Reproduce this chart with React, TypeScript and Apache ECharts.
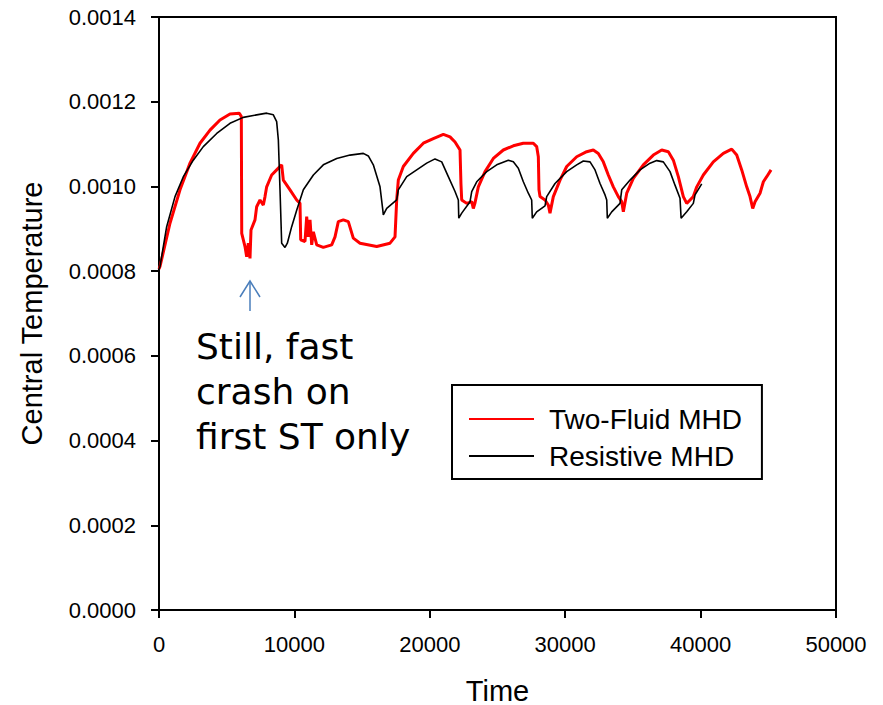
import React, { useEffect, useRef } from "react";
import * as echarts from "echarts";

const xTicks = [0, 10000, 20000, 30000, 40000, 50000];
const yTicks = [0, 0.0002, 0.0004, 0.0006, 0.0008, 0.001, 0.0012, 0.0014];

const twoFluidTime = [
  0, 74, 812, 1551, 2290, 3028, 3767, 4505, 5244, 5933, 6080, 6110, 6352, 6475, 6598, 6721, 6795, 7090,
  7213, 7460, 7705, 7829, 7952, 8321, 8690, 9060, 9183, 9676, 10169, 10414, 10465, 10783, 10908, 11031,
  11153, 11278, 11401, 11648, 12135, 12755, 13000, 13244, 13613, 13982, 14350, 14846, 16079, 17062, 17431,
  17555, 17675, 18044, 18783, 19522, 20260, 20999, 21493, 21863, 22232, 22300, 22357, 22727, 23096, 23214,
  23330, 23583, 24078, 24692, 25430, 26169, 26908, 27646, 27893, 28016, 28064, 28140, 28510, 28753, 28877,
  29123, 29617, 30110, 30849, 31588, 32077, 32446, 32815, 33184, 33554, 33923, 34175, 34294, 34544, 35032,
  35770, 36509, 37129, 37618, 37987, 38356, 38725, 38975, 39220, 39463, 39716, 40201, 40939, 41678, 42298,
  42668, 43037, 43406, 43650, 43849, 44021, 44390, 44636, 44884, 45202,
];
const twoFluidValue = [
  0.000805, 0.000811, 0.000913, 0.000992, 0.001055, 0.001102, 0.001133, 0.001157, 0.001171, 0.001173,
  0.001165, 0.000889, 0.000858, 0.000834, 0.000866, 0.00083, 0.000897, 0.000921, 0.000952, 0.000968,
  0.000956, 0.000976, 0.000999, 0.001027, 0.001039, 0.001051, 0.001015, 0.000992, 0.000968, 0.00096,
  0.000874, 0.00087, 0.000929, 0.000881, 0.000921, 0.000862, 0.000893, 0.000862, 0.000856, 0.000862,
  0.000881, 0.000917, 0.000921, 0.000917, 0.000878, 0.000866, 0.000858, 0.000866, 0.000881, 0.000968,
  0.001015, 0.001047, 0.001078, 0.001102, 0.001113, 0.001123, 0.001117, 0.001105, 0.001086, 0.001007,
  0.000968, 0.00096, 0.000964, 0.000948, 0.00096, 0.000999, 0.001035, 0.001066, 0.001086, 0.001096,
  0.001102, 0.001102, 0.001094, 0.00107, 0.000992, 0.000976, 0.000968, 0.000956, 0.000937, 0.000976,
  0.001015, 0.001047, 0.00107, 0.001082, 0.001086, 0.001078, 0.001058, 0.001027, 0.000999, 0.000976,
  0.000964, 0.00094, 0.000984, 0.001019, 0.001051, 0.001074, 0.001086, 0.001082, 0.001062, 0.001023,
  0.000976, 0.00096, 0.000968, 0.000976, 0.000999, 0.001027, 0.001058, 0.001078, 0.001088, 0.001074,
  0.001039, 0.000999, 0.000976, 0.000948, 0.000964, 0.000984, 0.001011, 0.001023, 0.001039,
];

const resistiveTime = [
  0, 74, 566, 1182, 1797, 2533, 3272, 4262, 5244, 6226, 7213, 7952, 8444, 8690, 8814, 8937, 9060, 9306,
  9478, 9799, 10169, 10661, 11401, 12135, 13125, 14107, 15090, 15459, 15828, 16323, 16530, 16567, 16818,
  17555, 17675, 18295, 19034, 19772, 20385, 20880, 21368, 21863, 22107, 22140, 22358, 22971, 23096, 23465,
  24203, 24941, 25800, 26169, 26538, 26908, 27277, 27524, 27570, 27893, 28510, 28633, 29248, 30110, 30849,
  31340, 31834, 32204, 32573, 32942, 33067, 33111, 33436, 34049, 34175, 34789, 35527, 36265, 36759, 37247,
  37742, 38110, 38480, 38560, 38975, 39463, 39589, 40083,
];
const resistiveValue = [
  0.000805, 0.000811, 0.000905, 0.000976, 0.001023, 0.001062, 0.001094, 0.001125, 0.001149, 0.001163,
  0.001169, 0.001173, 0.001169, 0.001153, 0.00111, 0.000992, 0.000866, 0.000856, 0.000866, 0.000905,
  0.000944, 0.000992, 0.001027, 0.001051, 0.001066, 0.001074, 0.001078, 0.001072, 0.001051, 0.000999,
  0.000944, 0.000933, 0.000948, 0.000968, 0.000992, 0.001023, 0.001039, 0.001055, 0.001065, 0.001058,
  0.001023, 0.000988, 0.000968, 0.000925, 0.000937, 0.000964, 0.000988, 0.001011, 0.001035, 0.001051,
  0.001062, 0.001058, 0.001043, 0.001011, 0.000984, 0.000968, 0.000925, 0.00094, 0.000954, 0.000976,
  0.001007, 0.001035, 0.001051, 0.00106, 0.001058, 0.001039, 0.001007, 0.00098, 0.000968, 0.000925,
  0.00094, 0.00096, 0.000992, 0.001015, 0.001039, 0.001055, 0.001061, 0.001058, 0.001035, 0.001003,
  0.000972, 0.000925, 0.00094, 0.00096, 0.00098, 0.001006,
];

const seriesNames = ["Two-Fluid MHD", "Resistive MHD"];
const annotationText = "Still, fast\ncrash on\nfirst ST only";

const FONT = "'Liberation Sans', Arial, sans-serif";

export default function App() {
  const ref = useRef<HTMLDivElement>(null);
  useEffect(() => {
    if (!ref.current) return;
    const chart = echarts.init(ref.current, undefined, { renderer: "svg" });
    const red = twoFluidTime.map((t, i) => [t, twoFluidValue[i]]);
    const black = resistiveTime.map((t, i) => [t, resistiveValue[i]]);
    chart.setOption({
      animation: false,
      backgroundColor: "#fff",
      grid: {
        left: 159,
        right: 47,
        top: 17,
        bottom: 95,
        containLabel: false,
        outerBoundsMode: "none",
        show: true,
        borderColor: "#000",
        borderWidth: 2,
      },
      xAxis: {
        type: "value",
        min: xTicks[0],
        max: xTicks[xTicks.length - 1],
        interval: 10000,
        name: "Time",
        nameLocation: "middle",
        nameGap: 66,
        nameTextStyle: { fontSize: 29, color: "#000", fontFamily: FONT },
        axisLine: { show: true, lineStyle: { color: "#000", width: 2 } },
        axisTick: { show: true, length: 8, lineStyle: { color: "#000", width: 2 } },
        axisLabel: {
          fontSize: 22,
          color: "#000",
          fontFamily: FONT,
          margin: 23,
          formatter: (v: number) => String(v),
        },
        splitLine: { show: false },
      },
      yAxis: {
        type: "value",
        min: yTicks[0],
        max: yTicks[yTicks.length - 1],
        interval: 0.0002,
        name: "Central Temperature",
        nameLocation: "middle",
        nameGap: 113,
        nameTextStyle: { fontSize: 29, color: "#000", fontFamily: FONT },
        axisLine: { show: true, lineStyle: { color: "#000", width: 2 } },
        axisTick: { show: true, length: 8, lineStyle: { color: "#000", width: 2 } },
        axisLabel: {
          fontSize: 22,
          color: "#000",
          fontFamily: FONT,
          margin: 23,
          formatter: (v: number) => v.toFixed(4),
        },
        splitLine: { show: false },
      },
      legend: {
        orient: "vertical",
        left: 452,
        top: 385,
        data: seriesNames,
        itemWidth: 65,
        itemHeight: 24,
        itemGap: 9,
        padding: [20, 20, 9, 16],
        borderColor: "#000",
        borderWidth: 2,
        borderRadius: 0,
        itemStyle: { opacity: 0 },
        textStyle: { fontSize: 28, color: "#000", fontFamily: FONT, padding: [0, 0, 0, 10] },
      },
      graphic: [
        {
          type: "polyline",
          shape: { points: [[250, 311], [250, 281]] },
          style: { stroke: "#4a7ebb", lineWidth: 1.5, fill: "none" },
        },
        {
          type: "polyline",
          shape: { points: [[240, 297], [250, 281], [260, 297]] },
          style: { stroke: "#4a7ebb", lineWidth: 1.5, fill: "none" },
        },
        {
          type: "text",
          left: 196,
          top: 324,
          style: {
            text: annotationText,
            fontSize: 36,
            lineHeight: 45,
            fontFamily: "'Comic Sans MS', 'DejaVu Sans', sans-serif",
            fill: "#000",
          },
        },
      ],
      series: [
        {
          name: seriesNames[0],
          type: "line",
          data: red,
          showSymbol: false,
          symbol: "none",
          lineStyle: { color: "#ff0000", width: 3 },
          itemStyle: { color: "#ff0000" },
          z: 2,
        },
        {
          name: seriesNames[1],
          type: "line",
          data: black,
          showSymbol: false,
          symbol: "none",
          lineStyle: { color: "#000", width: 1.6 },
          itemStyle: { color: "#000" },
          z: 3,
        },
      ],
    });
    return () => chart.dispose();
  }, []);
  return (
    <div
      ref={ref}
      style={{ position: "fixed", left: 0, top: 0, width: 883, height: 705, background: "#fff" }}
    />
  );
}
